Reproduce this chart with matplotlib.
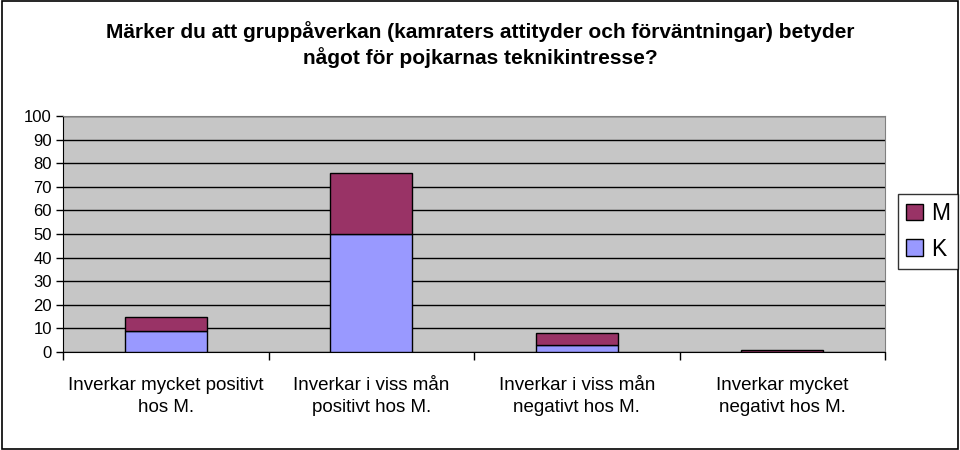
import matplotlib
matplotlib.use("Agg")
import matplotlib.pyplot as plt
from matplotlib.patches import Rectangle
import numpy as np

plt.rcParams['font.family'] = ['Liberation Sans', 'DejaVu Sans']

categories = ["Inverkar mycket positivt\nhos M.", "Inverkar i viss mån\npositivt hos M.",
              "Inverkar i viss mån\nnegativt hos M.", "Inverkar mycket\nnegativt hos M."]
K_values = [9, 50, 3, 0]
M_values = [6, 26, 5, 1]
title = "Märker du att gruppåverkan (kamraters attityder och förväntningar) betyder\nnågot för pojkarnas teknikintresse?"

fig = plt.figure(figsize=(9.6, 4.5), dpi=100)
fig.patches.append(Rectangle((0.002, 0.003), 0.996, 0.994, transform=fig.transFigure,
                             fill=False, edgecolor='black', linewidth=1.2))
ax = fig.add_axes([0.0656, 0.2178, 0.8564, 0.5244])
ax.set_facecolor('#C6C6C6')

x = np.arange(len(categories))
ax.bar(x, K_values, width=0.4, color='#9999FF', edgecolor='black', linewidth=1, label='K', zorder=3)
ax.bar(x, M_values, width=0.4, bottom=K_values, color='#993366', edgecolor='black', linewidth=1, label='M', zorder=3)

ax.set_xlim(-0.5, len(categories) - 0.5)
ax.set_ylim(0, 100)
ax.set_yticks(range(0, 101, 10))
ax.yaxis.grid(True, color='black', linewidth=1, zorder=1)
ax.set_axisbelow(True)
ax.tick_params(axis='y', labelsize=12, length=5, direction='out', width=1, pad=3)

ax.set_xticks(np.arange(-0.5, len(categories), 1.0))
ax.set_xticklabels([])
ax.set_xticks(x, minor=True)
ax.set_xticklabels(categories, minor=True, fontsize=13.5, linespacing=1.35)
ax.tick_params(axis='x', which='major', length=6, width=1)
ax.tick_params(axis='x', which='minor', length=0, pad=18)

for s in ['top', 'right']:
    ax.spines[s].set_color('#808080')
for s in ['left', 'bottom']:
    ax.spines[s].set_color('black')

h, l = ax.get_legend_handles_labels()
leg = fig.legend(h[::-1], l[::-1], loc='center', bbox_to_anchor=(0.9665, 0.486), fontsize=16.5,
                 frameon=True, fancybox=False, edgecolor='black', handlelength=0.75,
                 handleheight=0.75, handletextpad=0.35, borderpad=0.35, labelspacing=0.55)
leg.get_frame().set_linewidth(1)

fig.text(0.5, 0.902, title, ha='center', va='center', fontsize=15, fontweight='bold',
         linespacing=1.3)

fig.savefig("out.png", dpi=100)
